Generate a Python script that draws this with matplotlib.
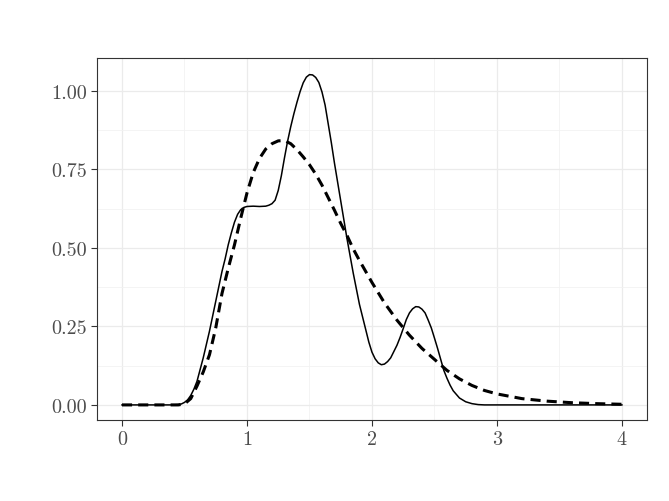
import matplotlib

matplotlib.use("Agg")
import matplotlib.pyplot as plt
from matplotlib.ticker import FixedLocator

# values
solid_x = [0.0, 0.4, 0.45, 0.475, 0.5, 0.525, 0.55, 0.575, 0.6, 0.65, 0.7, 0.75,
           0.8, 0.825, 0.85, 0.875, 0.9, 0.925, 0.95, 0.975, 1.0, 1.05, 1.1, 1.15,
           1.175, 1.2, 1.225, 1.25, 1.275, 1.3, 1.325, 1.35, 1.375, 1.4, 1.425,
           1.45, 1.475, 1.5, 1.525, 1.55, 1.575, 1.6, 1.625, 1.65, 1.675, 1.7,
           1.75, 1.8, 1.85, 1.9, 1.925, 1.95, 1.975, 2.0, 2.025, 2.05, 2.075, 2.1,
           2.125, 2.15, 2.175, 2.2, 2.225, 2.25, 2.275, 2.3, 2.325, 2.35, 2.375,
           2.4, 2.425, 2.45, 2.475, 2.5, 2.525, 2.55, 2.575, 2.6, 2.625, 2.65,
           2.7, 2.75, 2.8, 2.85, 2.9, 4.0]
solid_y = [0.0, 0.0, 0.001, 0.003, 0.008, 0.016, 0.03, 0.05, 0.075, 0.15, 0.235,
           0.33, 0.425, 0.465, 0.51, 0.548, 0.582, 0.607, 0.622, 0.629, 0.632,
           0.633, 0.632, 0.633, 0.636, 0.641, 0.652, 0.683, 0.73, 0.787, 0.84,
           0.886, 0.927, 0.964, 0.998, 1.026, 1.044, 1.052, 1.051, 1.043, 1.027,
           0.997, 0.955, 0.895, 0.835, 0.77, 0.65, 0.53, 0.42, 0.32, 0.28, 0.24,
           0.2, 0.168, 0.147, 0.134, 0.128, 0.13, 0.138, 0.15, 0.17, 0.19, 0.215,
           0.243, 0.272, 0.293, 0.306, 0.313, 0.312, 0.305, 0.293, 0.27, 0.245,
           0.213, 0.18, 0.145, 0.11, 0.085, 0.063, 0.045, 0.022, 0.01, 0.004,
           0.001, 0.0, 0.0]

dashed_x = [0.0, 0.45, 0.5, 0.55, 0.6, 0.65, 0.7, 0.75, 0.8, 0.85, 0.9, 0.95, 1.0,
            1.05, 1.1, 1.15, 1.2, 1.25, 1.3, 1.35, 1.4, 1.45, 1.5, 1.55, 1.6, 1.65,
            1.7, 1.75, 1.8, 1.85, 1.9, 1.95, 2.0, 2.1, 2.2, 2.3, 2.4, 2.5, 2.6, 2.7,
            2.8, 2.9, 3.0, 3.2, 3.4, 3.6, 3.8, 4.0]
dashed_y = [0.0, 0.0, 0.003, 0.02, 0.06, 0.105, 0.16, 0.245, 0.355, 0.435, 0.51,
            0.595, 0.675, 0.74, 0.785, 0.815, 0.832, 0.841, 0.842, 0.832, 0.813,
            0.79, 0.765, 0.735, 0.7, 0.66, 0.62, 0.578, 0.54, 0.497, 0.46, 0.425,
            0.39, 0.325, 0.27, 0.222, 0.18, 0.145, 0.11, 0.083, 0.062, 0.046,
            0.035, 0.02, 0.012, 0.007, 0.004, 0.002]

x_ticks = [0, 1, 2, 3, 4]
x_labels = ["0", "1", "2", "3", "4"]
y_ticks = [0.0, 0.25, 0.5, 0.75, 1.0]
y_labels = ["0.00", "0.25", "0.50", "0.75", "1.00"]

plt.rcParams["font.family"] = ["cmr10", "DejaVu Serif"]

fig = plt.figure(figsize=(6.69, 5.02), dpi=100)
ax = fig.add_axes([0.145, 0.1614, 0.822, 0.7211])

ax.plot(solid_x, solid_y, color="black", lw=1.1, zorder=3)
ax.plot(dashed_x, dashed_y, color="black", lw=2.2, linestyle=(0, (3.3, 2.0)),
        dash_capstyle="butt", zorder=4)

ax.set_xlim(-0.2, 4.2)
ax.set_ylim(-0.048, 1.105)

ax.xaxis.set_major_locator(FixedLocator(x_ticks))
ax.yaxis.set_major_locator(FixedLocator(y_ticks))
ax.xaxis.set_minor_locator(FixedLocator([0.5, 1.5, 2.5, 3.5]))
ax.yaxis.set_minor_locator(FixedLocator([0.125, 0.375, 0.625, 0.875]))
ax.set_xticklabels(x_labels)
ax.set_yticklabels(y_labels)

ax.grid(which="major", color="#EBEBEB", lw=0.9, zorder=0)
ax.grid(which="minor", color="#F2F2F2", lw=0.6, zorder=0)
ax.set_axisbelow(True)

ax.tick_params(which="major", length=4.3, width=0.8, color="#333333",
               labelcolor="#4D4D4D", labelsize=14.5, pad=3)
ax.tick_params(which="minor", length=0)
for spine in ax.spines.values():
    spine.set_color("#333333")
    spine.set_linewidth(0.8)

fig.savefig("out.png", dpi=100)
